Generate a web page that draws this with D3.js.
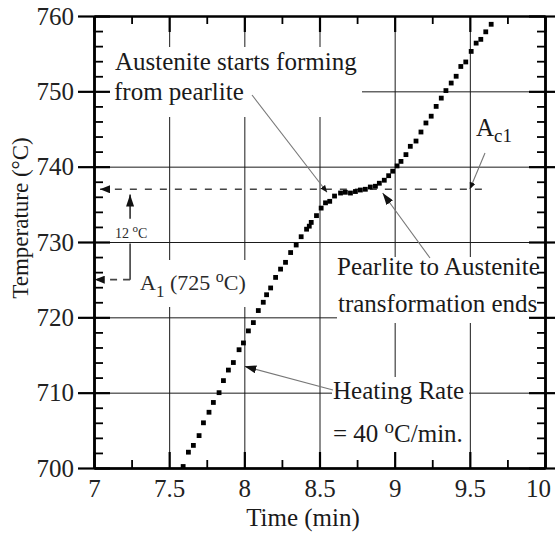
<!DOCTYPE html>
<html>
<head>
<meta charset="utf-8">
<script src="https://cdn.jsdelivr.net/npm/d3@7"></script>
<style>
  body { margin: 0; background: #fff; }
  svg { display: block; font-family: "Liberation Serif", "Times New Roman", serif; }
</style>
</head>
<body>
<svg id="chart" width="555" height="534"></svg>
<script>
// heating curve (time in min, temperature in oC)
var timeMin = [7.593, 7.628, 7.661, 7.699, 7.728, 7.765, 7.794, 7.832, 7.861, 7.894,
               7.927, 7.965, 7.994, 8.027, 8.060, 8.093, 8.126, 8.148, 8.175, 8.208,
               8.241, 8.274, 8.308, 8.345, 8.378, 8.414, 8.432, 8.445, 8.480, 8.511,
               8.540, 8.568, 8.600, 8.640, 8.672, 8.706, 8.739, 8.772, 8.805, 8.838,
               8.872, 8.898, 8.931, 8.960, 8.987, 9.016, 9.042, 9.075, 9.104, 9.142,
               9.175, 9.208, 9.243, 9.276, 9.310, 9.341, 9.376, 9.409, 9.440, 9.473,
               9.509, 9.542, 9.573, 9.606, 9.642];
var tempC = [700.2, 702.1, 703.0, 704.3, 706.0, 707.4, 708.7, 710.0, 711.6, 713.0,
             714.0, 715.7, 716.6, 718.2, 719.3, 720.9, 722.0, 723.0, 723.9, 725.3,
             726.4, 727.3, 728.6, 729.6, 730.7, 731.7, 732.1, 732.6, 733.5, 734.5,
             735.2, 735.4, 736.1, 736.5, 736.6, 736.5, 736.7, 736.9, 737.0, 737.3,
             737.4, 737.8, 738.2, 738.8, 739.4, 740.1, 740.7, 741.6, 742.7, 743.4,
             744.6, 745.8, 746.7, 748.0, 749.1, 750.1, 751.1, 752.0, 753.3, 753.9,
             755.3, 756.4, 756.9, 757.9, 758.9];

var xMajor = [7, 7.5, 8, 8.5, 9, 9.5, 10];
var xLabels = ["7", "7.5", "8", "8.5", "9", "9.5", "10"];
var xMinor = [7.25, 7.75, 8.25, 8.75, 9.25, 9.75];
var yMajor = [700, 710, 720, 730, 740, 750, 760];
var yLabels = ["700", "710", "720", "730", "740", "750", "760"];
var yMinor = [702, 704, 706, 708, 712, 714, 716, 718, 722, 724, 726, 728,
              732, 734, 736, 738, 742, 744, 746, 748, 752, 754, 756, 758];
var xGrid = [7.5, 8, 8.5, 9, 9.5];
var yGrid = [710, 720, 730, 740, 750];

var tA1 = 725, tAc1 = 737;   // A1 and Ac1 temperatures
var tBracket = 7.24;         // where the 12 oC bracket sits

var W = 555, H = 534;
var L = 94, R = 545, T = 16, B = 468;

var x = d3.scaleLinear().domain([7, 10]).range([L, R]);
var y = d3.scaleLinear().domain([700, 760]).range([B, T]);

var svg = d3.select("#chart");
svg.append("rect").attr("width", W).attr("height", H).attr("fill", "#fff");

var defs = svg.append("defs");
function marker(id, len, half) {
    defs.append("marker").attr("id", id)
        .attr("viewBox", "0 " + (-half) + " " + len + " " + (2 * half))
        .attr("refX", len).attr("refY", 0)
        .attr("markerWidth", len).attr("markerHeight", 2 * half)
        .attr("markerUnits", "userSpaceOnUse").attr("orient", "auto")
        .append("path").attr("d", "M0," + (-half) + "L" + len + ",0L0," + half + "Z")
        .attr("fill", "#111");
}
marker("arrBig", 12, 4);
marker("arrMid", 10, 4);
marker("arrSmall", 7, 3);

/* grid */
var grid = svg.append("g").attr("class", "grid");
grid.append("g").attr("transform", "translate(0," + B + ")")
    .call(d3.axisBottom(x).tickValues(xGrid).tickSize(-(B - T)).tickFormat(""));
grid.append("g").attr("transform", "translate(" + L + ",0)")
    .call(d3.axisLeft(y).tickValues(yGrid).tickSize(-(R - L)).tickFormat(""));
grid.selectAll(".domain").remove();
grid.selectAll("line").attr("stroke", "#1a1a1a").attr("stroke-width", 1);

/* white boxes behind the labels, they cut the grid */
var boxes = [[96, 47, 266, 70], [337, 257, 206, 66], [332, 377, 137, 89], [135, 260, 122, 47]];
svg.append("g").selectAll("rect").data(boxes).join("rect")
    .attr("x", function (d) { return d[0]; }).attr("y", function (d) { return d[1]; })
    .attr("width", function (d) { return d[2]; }).attr("height", function (d) { return d[3]; })
    .attr("fill", "#fff");

/* annotation lines */
var ann = svg.append("g").attr("fill", "none");
// Ac1 dashed level
ann.append("line")
    .attr("x1", x(9.58)).attr("y1", y(tAc1)).attr("x2", x(7.04)).attr("y2", y(tAc1))
    .attr("stroke", "#444").attr("stroke-width", 1.6).attr("stroke-dasharray", "7,8")
    .attr("marker-end", "url(#arrMid)");
// A1 bracket
ann.append("line")
    .attr("x1", x(tBracket)).attr("y1", y(729.8)).attr("x2", x(tBracket)).attr("y2", y(tA1))
    .attr("stroke", "#222").attr("stroke-width", 1.4);
ann.append("line")
    .attr("x1", x(tBracket)).attr("y1", y(tA1)).attr("x2", x(7.005)).attr("y2", y(tA1))
    .attr("stroke", "#444").attr("stroke-width", 1.6).attr("stroke-dasharray", "7,6")
    .attr("marker-end", "url(#arrMid)");
// 12 oC arrow
ann.append("line")
    .attr("x1", x(tBracket)).attr("y1", y(733.1)).attr("x2", x(tBracket)).attr("y2", y(736.3))
    .attr("stroke", "#111").attr("stroke-width", 1.4)
    .attr("marker-end", "url(#arrBig)");
// leaders
var leaders = [
    [252, 95, 8.55, 736.6, "arrSmall"],
    [430, 258, 8.92, 736.5, "arrBig"],
    [485, 153, 9.5, 737.0, "arrSmall"],
    [333, 390, 8.0, 713.5, "arrBig"]
];
ann.selectAll("line.leader").data(leaders).join("line").attr("class", "leader")
    .attr("x1", function (d) { return d[0]; }).attr("y1", function (d) { return d[1]; })
    .attr("x2", function (d) { return x(d[2]); }).attr("y2", function (d) { return y(d[3]); })
    .attr("stroke", "#777").attr("stroke-width", 1.1)
    .attr("marker-end", function (d) { return "url(#" + d[4] + ")"; });

/* axes */
var axes = svg.append("g").attr("class", "axes");
function tickAxis(gen, tx, ty, vals, size, cls) {
    var g = axes.append("g").attr("class", cls)
        .attr("transform", "translate(" + tx + "," + ty + ")")
        .call(gen.tickValues(vals).tickSize(size).tickSizeOuter(0).tickFormat(""));
    g.selectAll("text").remove();
    return g;
}
// left
tickAxis(d3.axisRight(y), L, 0, yMajor, 16, "major");
tickAxis(d3.axisRight(y), L, 0, yMinor, 9, "minor");
var yAx = axes.append("g").attr("class", "major ylab").attr("transform", "translate(" + L + ",0)")
    .call(d3.axisLeft(y).tickValues(yMajor).tickSize(16).tickSizeOuter(0).tickPadding(4)
        .tickFormat(function (d, i) { return yLabels[i]; }));
// right
tickAxis(d3.axisLeft(y), R, 0, yMajor, 16, "major");
tickAxis(d3.axisLeft(y), R, 0, yMinor, 8, "minor");
tickAxis(d3.axisRight(y), R, 0, yMajor, 10, "major");
// top
tickAxis(d3.axisBottom(x), 0, T, xMajor, 16, "major");
tickAxis(d3.axisBottom(x), 0, T, xMinor, 8, "minor");
// bottom
tickAxis(d3.axisTop(x), 0, B, xMajor, 16, "major");
tickAxis(d3.axisTop(x), 0, B, xMinor, 8, "minor");
var xAx = axes.append("g").attr("class", "xlab").attr("transform", "translate(0," + B + ")")
    .call(d3.axisBottom(x).tickValues(xMajor).tickSize(0).tickSizeOuter(0).tickPadding(11)
        .tickFormat(function (d, i) { return xLabels[i]; }));

axes.selectAll(".domain").attr("stroke", "#000").attr("stroke-width", 2.2);
axes.selectAll(".major line").attr("stroke", "#000").attr("stroke-width", 2.2);
axes.selectAll(".minor line").attr("stroke", "#000").attr("stroke-width", 1.8);
axes.selectAll("text").attr("font-family", "Liberation Serif, Times New Roman, serif")
    .attr("font-size", 25).attr("fill", "#222");
xAx.selectAll(".tick text").filter(function (d) { return d === 10; }).attr("dx", -7);

/* data */
var pts = timeMin.map(function (t, i) { return [t, tempC[i]]; });
svg.append("g").selectAll("rect").data(pts).join("rect")
    .attr("x", function (d) { return x(d[0]) - 2.4; })
    .attr("y", function (d) { return y(d[1]) - 2.4; })
    .attr("width", 4.8).attr("height", 4.8).attr("fill", "#000");

/* texts */
function label(px, py, parts, color) {
    var t = svg.append("text").attr("x", px).attr("y", py).attr("fill", color || "#1a1a1a");
    parts.forEach(function (p) {
        var s = t.append("tspan").text(p[0]).attr("font-size", p[1]);
        if (p[2]) s.attr("dy", p[2]);
    });
    return t;
}
label(115, 70, [["Austenite starts forming", 25]]);
label(114, 100, [["from pearlite", 25]]);
label(337, 275, [["Pearlite to Austenite", 25]]);
label(338, 312, [["transformation ends", 25]]);
label(333, 399, [["Heating Rate", 25]]);
label(333, 442, [["= 40 ", 25], ["o", 19, -9], ["C/min.", 25, 9]]);
label(476, 136, [["A", 25], ["c1", 19, 6]]);
label(140, 290, [["A", 22], ["1", 17, 7], [" (725 ", 22, -7], ["o", 16, -8], ["C)", 22, 8]], "#2a2a2a");
label(115, 238, [["12 ", 14], ["o", 11, -6], ["C", 14, 6]], "#2a2a2a");

svg.append("text").attr("x", 303).attr("y", 526).attr("text-anchor", "middle")
    .attr("font-size", 25).attr("fill", "#1a1a1a").text("Time (min)");
svg.append("text").attr("transform", "translate(28,218) rotate(-90)").attr("text-anchor", "middle")
    .attr("font-size", 23).attr("fill", "#1a1a1a").text("Temperature (\u00B0C)");
</script>
</body>
</html>
